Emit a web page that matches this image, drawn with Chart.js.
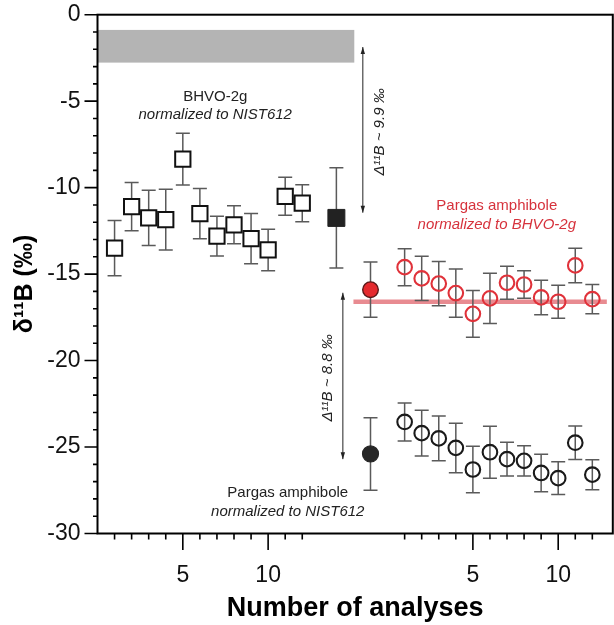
<!DOCTYPE html>
<html>
<head>
<meta charset="utf-8">
<script src="https://cdn.jsdelivr.net/npm/chart.js@4"></script>
<style>
  html, body { margin: 0; padding: 0; background: #fff; overflow: hidden; }
  #chart { display: block; }
</style>
</head>
<body>
<canvas id="chart" width="614" height="625"></canvas>
<script>
// BHVO-2g normalized to NIST612 (open squares) + mean (filled square)
const bhvoX = [1, 2, 3, 4, 5, 6, 7, 8, 9, 10, 11, 12];
const bhvoY = [-13.5, -11.1, -11.75, -11.85, -8.35, -11.5, -12.8, -12.15, -12.95, -13.6, -10.5, -10.9];
const bhvoErr = [1.6, 1.4, 1.6, 1.75, 1.5, 1.45, 1.15, 1.1, 1.45, 1.2, 1.1, 1.07];
const bhvoMeanX = [14];
const bhvoMeanY = [-11.75];
const bhvoMeanErr = [2.9];

// Pargas amphibole normalized to BHVO-2g (red circles) + mean
const pargasX = [18, 19, 20, 21, 22, 23, 24, 25, 26, 27, 28, 29];
const pargasBhvoY = [-14.6, -15.25, -15.55, -16.1, -17.3, -16.4, -15.5, -15.6, -16.35, -16.6, -14.5, -16.45];
const pargasBhvoErr = [1.07, 1.28, 1.28, 1.4, 1.35, 1.45, 0.96, 0.8, 1.0, 0.95, 1.0, 0.85];
const pargasBhvoMeanX = [16];
const pargasBhvoMeanY = [-15.9];
const pargasBhvoMeanErr = [1.6];

// Pargas amphibole normalized to NIST612 (black circles) + mean
const pargasNistY = [-23.55, -24.2, -24.5, -25.05, -26.3, -25.3, -25.7, -25.8, -26.5, -26.8, -24.75, -26.6];
const pargasNistErr = [1.1, 1.32, 1.3, 1.43, 1.35, 1.5, 0.97, 0.87, 1.08, 0.95, 0.97, 0.87];
const pargasNistMeanX = [16];
const pargasNistMeanY = [-25.4];
const pargasNistMeanErr = [2.1];

// reference band, mean line, arrows
const bandX = [0, 15.05];
const bandY = [-0.88, -2.77];
const meanLineX = [15, 29.85];
const meanLineY = -16.6;
const arrow1 = { x: 15.55, from: -1.87, to: -11.45 };
const arrow2 = { x: 14.38, from: -16.08, to: -25.7 };

// ticks
const xTickValues = [1, 2, 3, 4, 5, 6, 7, 8, 9, 10, 11, 12, 18, 19, 20, 21, 22, 23, 24, 25, 26, 27, 28, 29];
const xTickLabels = { 5: '5', 10: '10', 22: '5', 27: '10' };
const xMajor = [5, 10, 22, 27];

const toPts = (xs, ys) => ys.map((y, i) => ({ x: xs[i], y: y }));

// fond, ligne moyenne, barres d'erreur
const backdrop = {
  id: 'backdrop',
  beforeDatasetsDraw(chart) {
    const { ctx, scales: { x, y } } = chart;
    ctx.save();
    ctx.fillStyle = '#b4b4b4';
    const bx0 = x.getPixelForValue(bandX[0]), bx1 = x.getPixelForValue(bandX[1]);
    const by0 = y.getPixelForValue(bandY[0]), by1 = y.getPixelForValue(bandY[1]);
    ctx.fillRect(bx0, by0, bx1 - bx0, by1 - by0);

    ctx.strokeStyle = 'rgba(226, 110, 118, 0.8)';
    ctx.lineWidth = 4.5;
    ctx.beginPath();
    ctx.moveTo(x.getPixelForValue(meanLineX[0]), y.getPixelForValue(meanLineY));
    ctx.lineTo(x.getPixelForValue(meanLineX[1]), y.getPixelForValue(meanLineY));
    ctx.stroke();

    ctx.strokeStyle = '#5a5a5a';
    ctx.lineWidth = 1.5;
    chart.data.datasets.forEach(ds => {
      if (!ds.errors) return;
      ds.data.forEach((p, i) => {
        const px = x.getPixelForValue(p.x);
        const top = y.getPixelForValue(p.y + ds.errors[i]);
        const bot = y.getPixelForValue(p.y - ds.errors[i]);
        ctx.beginPath();
        ctx.moveTo(px, top); ctx.lineTo(px, bot);
        ctx.moveTo(px - 7, top); ctx.lineTo(px + 7, top);
        ctx.moveTo(px - 7, bot); ctx.lineTo(px + 7, bot);
        ctx.stroke();
      });
    });
    ctx.restore();
  }
};

function drawArrow(ctx, x, y0, y1) {
  ctx.beginPath();
  ctx.moveTo(x, y0); ctx.lineTo(x, y1);
  ctx.stroke();
  [[y0, 1], [y1, -1]].forEach(([yy, d]) => {
    ctx.beginPath();
    ctx.moveTo(x, yy);
    ctx.lineTo(x - 2.2, yy + d * 7);
    ctx.lineTo(x + 2.2, yy + d * 7);
    ctx.closePath();
    ctx.fill();
  });
}

function rotText(ctx, text, x, y) {
  ctx.save();
  ctx.translate(x, y);
  ctx.rotate(-Math.PI / 2);
  ctx.fillText(text, 0, 0);
  ctx.restore();
}

// cadre, graduations, annotations
const frame = {
  id: 'frame',
  afterDraw(chart) {
    const { ctx, chartArea: a, scales: { x, y } } = chart;
    ctx.save();
    ctx.strokeStyle = '#000';
    ctx.lineWidth = 2;
    ctx.strokeRect(a.left, a.top, a.right - a.left, a.bottom - a.top);

    ctx.lineWidth = 1.6;
    ctx.beginPath();
    for (let v = 0; v >= -30; v--) {
      const py = y.getPixelForValue(v);
      const len = v % 5 === 0 ? 13 : 4.5;
      ctx.moveTo(a.left, py); ctx.lineTo(a.left - len, py);
    }
    xTickValues.forEach(v => {
      const px = x.getPixelForValue(v);
      const len = xMajor.includes(v) ? 16.5 : 6;
      ctx.moveTo(px, a.bottom); ctx.lineTo(px, a.bottom + len);
    });
    ctx.stroke();

    // annotations
    ctx.fillStyle = '#222';
    ctx.strokeStyle = '#222';
    ctx.lineWidth = 1;
    drawArrow(ctx, x.getPixelForValue(arrow1.x), y.getPixelForValue(arrow1.from), y.getPixelForValue(arrow1.to));
    drawArrow(ctx, x.getPixelForValue(arrow2.x), y.getPixelForValue(arrow2.from), y.getPixelForValue(arrow2.to));

    ctx.textAlign = 'center';
    ctx.textBaseline = 'middle';
    ctx.font = '15px "Liberation Sans", Arial, sans-serif';
    ctx.fillText('BHVO-2g', x.getPixelForValue(6.9), y.getPixelForValue(-4.75));
    ctx.fillText('Pargas amphibole', x.getPixelForValue(11.15), y.getPixelForValue(-27.63));
    ctx.font = 'italic 15px "Liberation Sans", Arial, sans-serif';
    ctx.fillText('normalized to NIST612', x.getPixelForValue(6.9), y.getPixelForValue(-5.8));
    ctx.fillText('normalized to NIST612', x.getPixelForValue(11.15), y.getPixelForValue(-28.73));
    rotText(ctx, 'Δ¹¹B ~ 9.9 ‰', x.getPixelForValue(16.55), y.getPixelForValue(-6.78));
    rotText(ctx, 'Δ¹¹B ~ 8.8 ‰', x.getPixelForValue(13.5), y.getPixelForValue(-21.0));

    ctx.fillStyle = '#d6323c';
    ctx.font = '15px "Liberation Sans", Arial, sans-serif';
    ctx.fillText('Pargas amphibole', x.getPixelForValue(23.4), y.getPixelForValue(-11.05));
    ctx.font = 'italic 15px "Liberation Sans", Arial, sans-serif';
    ctx.fillText('normalized to BHVO-2g', x.getPixelForValue(23.4), y.getPixelForValue(-12.15));

    // y title
    ctx.fillStyle = '#000';
    ctx.font = 'bold 25px "Liberation Sans", Arial, sans-serif';
    rotText(ctx, 'δ¹¹B (‰)', 25, 284);
    ctx.restore();
  }
};

const openSquare = { pointStyle: 'rect', pointRadius: 10.8, borderColor: '#111', backgroundColor: '#fff', borderWidth: 2 };
const openCircle = { pointStyle: 'circle', pointRadius: 7.3, backgroundColor: 'rgba(0,0,0,0)', borderWidth: 2.1 };

new Chart(document.getElementById('chart'), {
  type: 'scatter',
  data: {
    datasets: [
      { ...openSquare, data: toPts(bhvoX, bhvoY), errors: bhvoErr },
      { pointStyle: 'rect', pointRadius: 12, backgroundColor: '#222', borderColor: '#222', borderWidth: 1,
        data: toPts(bhvoMeanX, bhvoMeanY), errors: bhvoMeanErr },
      { ...openCircle, borderColor: '#e0323a', data: toPts(pargasX, pargasBhvoY), errors: pargasBhvoErr },
      { pointStyle: 'circle', pointRadius: 7.8, backgroundColor: '#e42a2e', borderColor: '#5a1a1a', borderWidth: 1.4,
        data: toPts(pargasBhvoMeanX, pargasBhvoMeanY), errors: pargasBhvoMeanErr },
      { ...openCircle, borderColor: '#1a1a1a', data: toPts(pargasX, pargasNistY), errors: pargasNistErr },
      { pointStyle: 'circle', pointRadius: 8, backgroundColor: '#262626', borderColor: '#262626', borderWidth: 1.2,
        data: toPts(pargasNistMeanX, pargasNistMeanY), errors: pargasNistMeanErr }
    ]
  },
  options: {
    responsive: false,
    animation: false,
    layout: { autoPadding: false, padding: { top: 14.7, right: 1.2 } },
    plugins: { legend: { display: false }, tooltip: { enabled: false } },
    scales: {
      x: {
        type: 'linear', min: 0, max: 30.2,
        afterFit: s => { s.height = 91.5; s.paddingLeft = 0; s.paddingRight = 0; },
        afterBuildTicks: s => { s.ticks = xTickValues.map(v => ({ value: v })); },
        grid: { display: false, drawTicks: false },
        border: { display: false },
        ticks: {
          autoSkip: false, maxRotation: 0, padding: 28, color: '#111',
          font: { family: '"Liberation Sans", Arial, sans-serif', size: 23 },
          callback: v => xTickLabels[v] || ''
        },
        title: {
          display: true, text: 'Number of analyses', color: '#000',
          font: { family: '"Liberation Sans", Arial, sans-serif', size: 27, weight: 'bold' },
          padding: { top: 0, bottom: 0 }
        }
      },
      y: {
        min: -30, max: 0,
        afterFit: s => { s.width = 97.5; s.paddingTop = 0; s.paddingBottom = 0; },
        grid: { display: false, drawTicks: false },
        border: { display: false },
        ticks: {
          stepSize: 5, padding: 17, color: '#111',
          font: { family: '"Liberation Sans", Arial, sans-serif', size: 23 }
        }
      }
    }
  },
  plugins: [backdrop, frame]
});
</script>
</body>
</html>
